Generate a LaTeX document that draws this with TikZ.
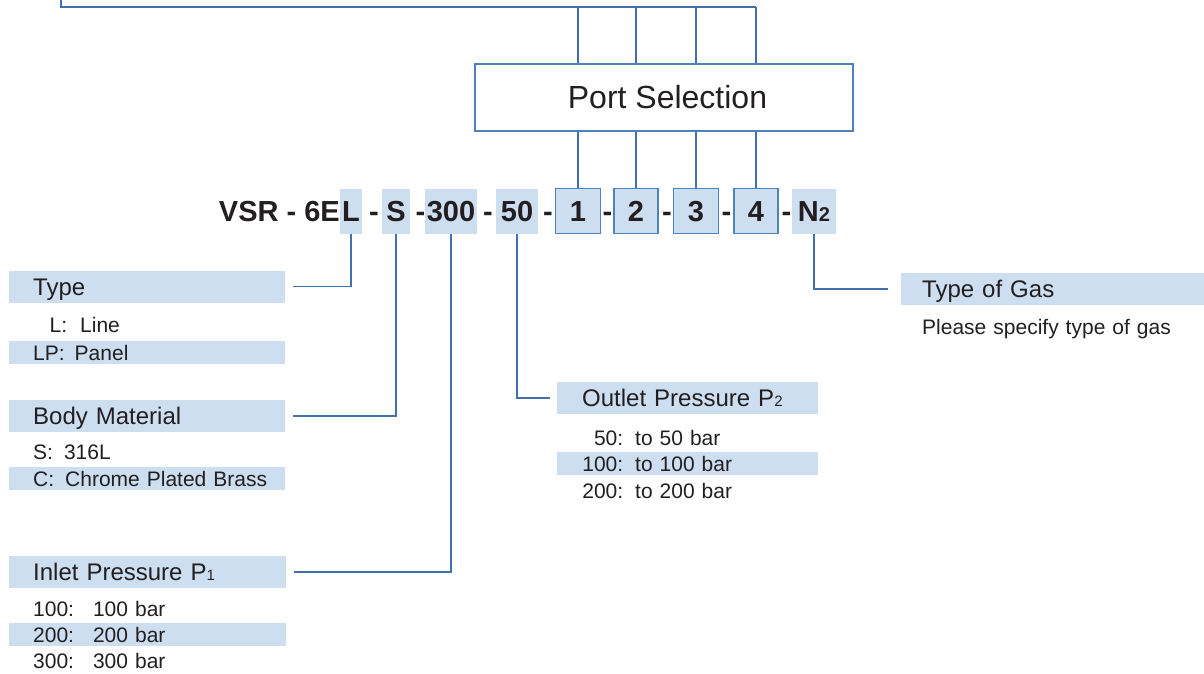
\documentclass[tikz,border=0pt]{standalone}
\usepackage{fontspec}
\setmainfont{Liberation Sans}
\definecolor{bandblue}{RGB}{205,222,240}
\definecolor{lineblue}{RGB}{66,112,172}
\definecolor{boxblue}{RGB}{79,129,189}
\definecolor{inkgray}{RGB}{35,31,32}
\newcommand{\fsz}[1]{\fontsize{#1}{#1}\selectfont}
\newcommand{\lowix}[1]{{\fsz{15}#1}}
\tikzset{
  codebox/.style={fill=bandblue, inner sep=0pt, minimum height=45pt, text=inkgray,
    font=\fsz{29}\bfseries, text height=20.8pt, text depth=0pt},
  portbox/.style={codebox, draw=boxblue, line width=1.3pt},
  dashlbl/.style={inner sep=0pt, text=inkgray, font=\fsz{29}\bfseries,
    text height=20.8pt, text depth=0pt},
  portsel/.style={draw=boxblue, fill=white, line width=1.8pt, inner sep=0pt,
    minimum width=378pt, minimum height=67pt, text=inkgray, font=\fsz{32}},
  headband/.style={fill=bandblue, anchor=west, inner xsep=24pt, inner ysep=0pt,
    minimum height=32pt, text width=#1, text=inkgray, font=\fsz{24},
    text height=17.2pt, text depth=0pt},
  rowband/.style={fill=bandblue, anchor=west, inner xsep=24pt, inner ysep=0pt,
    minimum height=23pt, text width=#1, text=inkgray, font=\fsz{21},
    text height=15pt, text depth=0pt},
  rowplain/.style={rowband=#1, fill=none},
  link/.style={draw=lineblue, line width=1.3pt},
}

\begin{document}
\begin{tikzpicture}[x=1pt,y=-1pt]
\useasboundingbox (0,0) rectangle (1204,674);

% order code
\node[dashlbl, anchor=east] (vsr) at (340,211) {VSR - 6E};
\node[codebox, minimum width=22pt] (cL) at (351,211) {L};
\node[codebox, minimum width=28pt] (cS) at (396,211) {S};
\node[codebox, minimum width=52pt] (c300) at (451,211) {300};
\node[codebox, minimum width=42pt] (c50) at (517,211) {50};
\node[portbox, minimum width=45pt] (p1) at (578,211) {1};
\node[portbox, minimum width=44pt] (p2) at (636,211) {2};
\node[portbox, minimum width=45pt] (p3) at (696,211) {3};
\node[portbox, minimum width=44pt] (p4) at (756,211) {4};
\node[codebox, minimum width=44pt] (cN) at (814,211) {N{\fsz{20}2}};
\foreach \dx [count=\i] in {374,420.5,488,548,607.5,667,726.5,786.5}
  \node[dashlbl] (dash\i) at (\dx,211) {-};

% port selection
\node[portsel] (port) at (664,97.5) {\hspace*{7pt}Port Selection};
\coordinate (topbar) at (0,7);
\coordinate (topend) at (61,0);
\draw[link] (topend) |- (p4.north |- topbar);
\foreach \p in {p1,p2,p3,p4} {
  \draw[link] (\p.north) -- (\p.north |- port.south);
  \draw[link] (\p.north |- port.north) -- (\p.north |- topbar);
}

% type
\node[headband=228pt] (tyhead) at (9,286.5) {Type};
\node[rowplain=228pt] (tyL) at (9,325) {\makebox[34pt][r]{L:}\hspace{13pt}Line};
\node[rowband=228pt] (tyLP) at (9,352.5) {LP:\hspace{10pt}Panel};

% body material
\node[headband=228pt] (bmhead) at (9,416) {Body Material};
\node[rowplain=228pt] (bmS) at (9,452) {S:\hspace{11pt}316L};
\node[rowband=228pt] (bmC) at (9,478.5) {\mbox{C:\hspace{11pt}Chrome Plated Brass}};

% inlet pressure
\node[headband=229pt] (iphead) at (9,572) {Inlet Pressure P\lowix{1}};
\node[rowplain=229pt] (ip100) at (9,609) {100:\hspace{19pt}100 bar};
\node[rowband=229pt] (ip200) at (9,634.5) {200:\hspace{19pt}200 bar};
\node[rowplain=229pt] (ip300) at (9,661) {300:\hspace{19pt}300 bar};

% outlet pressure
\node[headband=211pt, inner xsep=25pt] (ophead) at (557,398) {Outlet Pressure P\lowix{2}};
\node[rowplain=211pt, inner xsep=25pt] (op50) at (557,438) {\makebox[41pt][r]{50:}\hspace{12pt}to 50 bar};
\node[rowband=211pt, inner xsep=25pt] (op100) at (557,463.5) {\makebox[41pt][r]{100:}\hspace{12pt}to 100 bar};
\node[rowplain=211pt, inner xsep=25pt] (op200) at (557,491) {\makebox[41pt][r]{200:}\hspace{12pt}to 200 bar};

% gas
\node[headband=261pt, inner xsep=21pt] (gashead) at (901,289) {Type of Gas};
\node[rowplain=261pt, inner xsep=21pt] (gasnote) at (901,327) {Please specify type of gas};

% leaders
\draw[link] (cL.south) |- ([xshift=8pt]tyhead.east);
\draw[link] (cS.south) |- ([xshift=8pt]bmhead.east);
\draw[link] (c300.south) |- ([xshift=8pt]iphead.east);
\draw[link] (c50.south) |- ([xshift=-7pt]ophead.west);
\draw[link] (cN.south) |- ([xshift=-13pt]gashead.west);
\end{tikzpicture}
\end{document}
